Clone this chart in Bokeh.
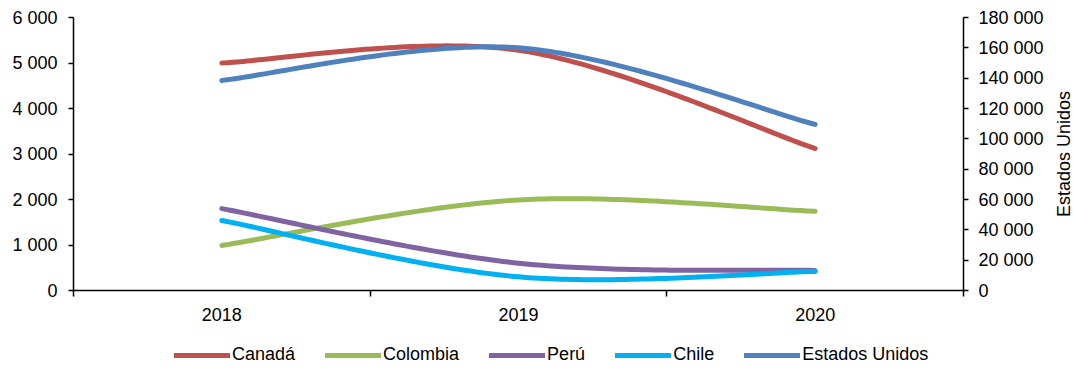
import math
import numpy as np
from bokeh.plotting import figure
from bokeh.layouts import column, row
from bokeh.models import (Range1d, LinearAxis, FixedTicker, Legend, LegendItem, Label)
from bokeh.embed import file_html
from bokeh.resources import INLINE

years = ["2018", "2019", "2020"]
canada = [5000, 5280, 3120]
colombia = [990, 1990, 1740]
peru = [1800, 600, 440]
chile = [1540, 300, 420]
eeuu = [138500, 160000, 109500]

left_ticks = [0, 1000, 2000, 3000, 4000, 5000, 6000]
right_ticks = [0, 20000, 40000, 60000, 80000, 100000, 120000, 140000, 160000, 180000]
right_title = "Estados Unidos"

colors = {"Canadá": "#C0504D", "Colombia": "#9BBB59", "Perú": "#8064A2",
          "Chile": "#00B0F0", "Estados Unidos": "#4F81BD"}

FONT = "Liberation Sans"
FS = "18px"


def fmt(v):
    return f"{v:,}".replace(",", " ")


def smooth(xs, ys, n=60):
    pts = np.column_stack([xs, ys]).astype(float)
    m = len(pts)
    out = []
    for i in range(m - 1):
        p0 = pts[i - 1] if i > 0 else pts[i]
        p1 = pts[i]
        p2 = pts[i + 1]
        p3 = pts[i + 2] if i + 2 < m else pts[i + 1]
        c1 = p1 + (p2 - p0) / 6.0
        c2 = p2 - (p3 - p1) / 6.0
        t = np.linspace(0, 1, n)[:, None]
        seg = ((1 - t) ** 3) * p1 + 3 * ((1 - t) ** 2) * t * c1 + 3 * (1 - t) * t ** 2 * c2 + t ** 3 * p2
        out.append(seg if i == 0 else seg[1:])
    arr = np.vstack(out)
    return arr[:, 0], arr[:, 1]


xpos = [i + 0.5 for i in range(len(years))]

p = figure(width=1052, height=323, output_backend="svg", toolbar_location=None,
           x_range=Range1d(0, len(years)), y_range=Range1d(0, 6000),
           min_border_left=73, min_border_right=89, min_border_top=17,
           min_border_bottom=33)
p.outline_line_color = None
p.grid.visible = False
p.background_fill_color = "white"
p.border_fill_color = "white"

p.extra_y_ranges = {"us": Range1d(0, 180000)}

for name, vals, rng in [("Canadá", canada, "default"), ("Colombia", colombia, "default"),
                        ("Perú", peru, "default"), ("Chile", chile, "default"),
                        ("Estados Unidos", eeuu, "us")]:
    sx, sy = smooth(xpos, vals)
    p.line(sx, sy, line_color=colors[name], line_width=5, line_cap="round",
           line_join="round", y_range_name=rng)

# x axis
xa = p.xaxis[0]
xa.ticker = FixedTicker(ticks=xpos, minor_ticks=list(range(len(years) + 1)))
xa.major_label_overrides = {x: y for x, y in zip(xpos, years)}
xa.major_tick_out = 0
xa.major_tick_in = 0
xa.minor_tick_out = 6
xa.minor_tick_in = 0
xa.minor_tick_line_color = "black"
xa.minor_tick_line_width = 1.5
xa.axis_line_color = "black"
xa.axis_line_width = 1.5
xa.major_label_standoff = 11
xa.major_label_text_font = FONT
xa.major_label_text_font_size = FS
xa.major_label_text_color = "black"

# left axis
ya = p.yaxis[0]
ya.ticker = FixedTicker(ticks=left_ticks, minor_ticks=[])
ya.major_label_overrides = {t: fmt(t) for t in left_ticks}
ya.major_tick_out = 5
ya.major_tick_in = 0
ya.major_tick_line_width = 1.5
ya.axis_line_width = 1.5
ya.major_label_standoff = 11
ya.major_label_text_font = FONT
ya.major_label_text_font_size = FS
ya.major_label_text_color = "black"

# right axis
ra = LinearAxis(y_range_name="us")
ra.ticker = FixedTicker(ticks=right_ticks, minor_ticks=[])
ra.major_label_overrides = {t: fmt(t) for t in right_ticks}
ra.major_tick_out = 5
ra.major_tick_in = 0
ra.major_tick_line_width = 1.5
ra.axis_line_width = 1.5
ra.major_label_standoff = 10
ra.major_label_text_font = FONT
ra.major_label_text_font_size = FS
ra.major_label_text_color = "black"
p.add_layout(ra, "right")

# narrow strip holding the right-axis title (reads bottom to top)
tf = figure(width=22, height=323, output_backend="svg", toolbar_location=None,
            x_range=Range1d(0, 1), y_range=Range1d(0, 1),
            min_border=0, outline_line_color=None)
tf.axis.visible = False
tf.grid.visible = False
tf.add_layout(Label(x=0.5, y=0.5, text=right_title, angle=math.pi / 2,
                    text_align="center", text_baseline="middle",
                    text_font=FONT, text_font_size=FS, text_color="black"))

# legend figure
lf = figure(width=1074, height=48, output_backend="svg", toolbar_location=None,
            x_range=Range1d(0, 1), y_range=Range1d(0, 1),
            min_border_left=73, min_border_right=111, min_border_top=0,
            min_border_bottom=0, outline_line_color=None)
lf.axis.visible = False
lf.grid.visible = False
items = []
for name, col in colors.items():
    r = lf.line(x=[np.nan], y=[np.nan], line_color=col, line_width=5, line_cap="round")
    items.append(LegendItem(label=name, renderers=[r]))

legend = Legend(items=items, orientation="horizontal", location=(101, 6),
                glyph_width=56, glyph_height=18, label_standoff=2, spacing=30,
                padding=0, margin=0, border_line_color=None,
                background_fill_alpha=0,
                label_text_font=FONT, label_text_font_size=FS,
                label_text_color="black", label_height=18)
lf.add_layout(legend, "center")

layout = column(row(p, tf, spacing=0), lf, spacing=0)
open("out.html", "w").write(file_html(layout, INLINE))
